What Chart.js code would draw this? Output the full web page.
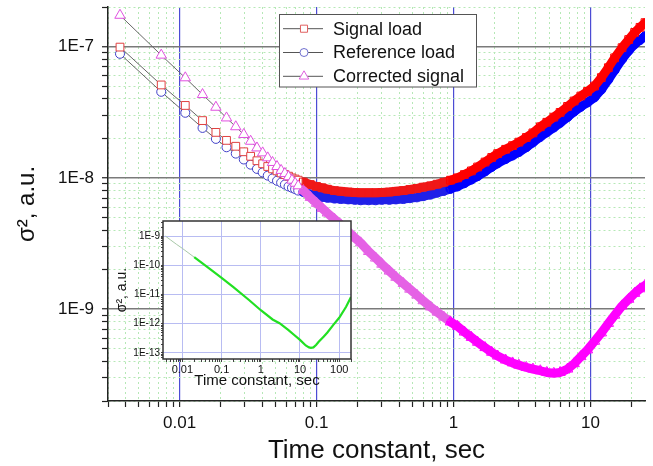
<!DOCTYPE html>
<html>
<head>
<meta charset="utf-8">
<script src="https://cdn.jsdelivr.net/npm/chart.js@4.4.1/dist/chart.umd.min.js"></script>
<style>
  html, body { margin: 0; padding: 0; background: #fff; }
  #wrap { position: relative; width: 653px; height: 466px; }
  #main { position: absolute; left: 0; top: 0; }
  #inset { position: absolute; left: 100px; top: 212px; }
</style>
</head>
<body>
<div id="wrap">
  <canvas id="main" width="653" height="466"></canvas>
  <canvas id="inset" width="260" height="180"></canvas>
</div>
<script>
// time constant, sec (shared by the three main series)
const tau = [0.00367, 0.00734, 0.0110, 0.0147, 0.0184, 0.0220, 0.0257, 0.0294, 0.0330, 0.0367,
  0.0404, 0.0440, 0.0477, 0.0514, 0.0551, 0.0587, 0.0624, 0.0661, 0.0697, 0.0734,
  0.080, 0.090, 0.10, 0.11, 0.12, 0.135, 0.15, 0.17, 0.19, 0.21,
  0.24, 0.27, 0.30, 0.34, 0.38, 0.43, 0.48, 0.54, 0.60, 0.68,
  0.76, 0.85, 0.95, 1.07, 1.2, 1.35, 1.5, 1.7, 1.9, 2.1,
  2.4, 2.7, 3.0, 3.4, 3.8, 4.3, 4.8, 5.4, 6.0, 6.8,
  7.6, 8.5, 9.5, 10.7, 12, 13.5, 15, 17, 19, 21, 23, 25];

const signalLoad = [9.9e-8, 5.1e-8, 3.56e-8, 2.73e-8, 2.22e-8, 1.93e-8, 1.74e-8, 1.58e-8, 1.46e-8, 1.35e-8,
  1.28e-8, 1.22e-8, 1.17e-8, 1.13e-8, 1.09e-8, 1.06e-8, 1.03e-8, 1.0e-8, 9.8e-9, 9.6e-9,
  9.3e-9, 8.9e-9, 8.6e-9, 8.4e-9, 8.2e-9, 8.0e-9, 7.9e-9, 7.8e-9, 7.75e-9, 7.7e-9,
  7.7e-9, 7.7e-9, 7.75e-9, 7.8e-9, 7.9e-9, 8.0e-9, 8.15e-9, 8.3e-9, 8.5e-9, 8.7e-9,
  8.95e-9, 9.25e-9, 9.6e-9, 1.0e-8, 1.06e-8, 1.13e-8, 1.21e-8, 1.32e-8, 1.43e-8, 1.53e-8,
  1.65e-8, 1.76e-8, 1.87e-8, 2.03e-8, 2.2e-8, 2.45e-8, 2.65e-8, 2.9e-8, 3.15e-8, 3.5e-8,
  3.85e-8, 4.2e-8, 4.55e-8, 5.0e-8, 5.8e-8, 6.9e-8, 8.2e-8, 9.8e-8, 1.13e-7, 1.28e-7, 1.4e-7, 1.52e-7];

const referenceLoad = [8.8e-8, 4.52e-8, 3.13e-8, 2.4e-8, 1.98e-8, 1.71e-8, 1.53e-8, 1.38e-8, 1.26e-8, 1.17e-8,
  1.1e-8, 1.04e-8, 9.9e-9, 9.5e-9, 9.2e-9, 8.9e-9, 8.6e-9, 8.4e-9, 8.2e-9, 8.0e-9,
  7.8e-9, 7.5e-9, 7.3e-9, 7.15e-9, 7.05e-9, 6.95e-9, 6.9e-9, 6.85e-9, 6.8e-9, 6.75e-9,
  6.75e-9, 6.75e-9, 6.8e-9, 6.8e-9, 6.85e-9, 6.9e-9, 7.0e-9, 7.1e-9, 7.25e-9, 7.45e-9,
  7.7e-9, 7.95e-9, 8.25e-9, 8.6e-9, 9.1e-9, 9.7e-9, 1.03e-8, 1.12e-8, 1.21e-8, 1.29e-8,
  1.39e-8, 1.48e-8, 1.57e-8, 1.71e-8, 1.86e-8, 2.05e-8, 2.22e-8, 2.42e-8, 2.62e-8, 2.9e-8,
  3.2e-8, 3.48e-8, 3.75e-8, 4.1e-8, 4.7e-8, 5.6e-8, 6.6e-8, 8.0e-8, 9.3e-8, 1.04e-7, 1.12e-7, 1.2e-7];

const correctedSignal = [1.73e-7, 8.6e-8, 5.78e-8, 4.31e-8, 3.45e-8, 2.86e-8, 2.45e-8, 2.14e-8, 1.9e-8, 1.69e-8,
  1.55e-8, 1.42e-8, 1.31e-8, 1.22e-8, 1.14e-8, 1.08e-8, 1.02e-8, 9.6e-9, 9.1e-9, 8.7e-9,
  8.0e-9, 7.1e-9, 6.4e-9, 5.85e-9, 5.4e-9, 4.85e-9, 4.4e-9, 3.9e-9, 3.5e-9, 3.2e-9,
  2.75e-9, 2.45e-9, 2.2e-9, 1.95e-9, 1.75e-9, 1.57e-9, 1.42e-9, 1.28e-9, 1.16e-9, 1.04e-9,
  9.5e-10, 8.7e-10, 8.0e-10, 7.4e-10, 6.7e-10, 6.1e-10, 5.6e-10, 5.1e-10, 4.7e-10, 4.4e-10,
  4.1e-10, 3.9e-10, 3.75e-10, 3.6e-10, 3.5e-10, 3.4e-10, 3.3e-10, 3.25e-10, 3.3e-10, 3.5e-10,
  3.85e-10, 4.35e-10, 4.9e-10, 5.7e-10, 6.6e-10, 7.8e-10, 9.0e-10, 1.06e-9, 1.19e-9, 1.32e-9, 1.43e-9, 1.52e-9];

// inset
const insetTau = [0.0037, 0.005, 0.007, 0.01, 0.02, 0.05, 0.1, 0.2, 0.5, 1, 2, 3, 5, 7, 10, 14, 17, 19, 22, 26, 30, 40, 50, 70, 100, 150, 200];
const insetSigma = [1.0e-9, 7.4e-10, 5.3e-10, 3.8e-10, 1.9e-10, 7.5e-11, 3.7e-11, 1.8e-11, 6.5e-12, 2.9e-12, 1.4e-12, 1.04e-12, 6.2e-13, 4.2e-13, 2.8e-13, 1.8e-13, 1.55e-13, 1.5e-13, 1.55e-13, 1.9e-13, 2.4e-13, 3.6e-13, 5.0e-13, 9.0e-13, 1.6e-12, 3.8e-12, 8.2e-12];

const seriesLabels = ['Signal load', 'Reference load', 'Corrected signal'];

const xMajorTicks = [0.01, 0.1, 1, 10];
const xTickLabels = ['0.01', '0.1', '1', '10'];
const yMajorTicks = [1e-9, 1e-8, 1e-7];
const yTickLabels = ['1E-9', '1E-8', '1E-7'];
const insetXMajorTicks = [0.01, 0.1, 1, 10, 100];
const insetXTickLabels = ['0.01', '0.1', '1', '10', '100'];
const insetYMajorTicks = [1e-13, 1e-12, 1e-11, 1e-10, 1e-9];
const insetYTickLabels = ['1E-13', '1E-12', '1E-11', '1E-10', '1E-9'];

const FONT = 'Arial, "Liberation Sans", sans-serif';
Chart.defaults.font.family = FONT;
Chart.defaults.color = '#111';

const DENSE = 0.075; // markers merge into a band beyond this

function labelFor(values, labels) {
  return v => {
    const i = values.findIndex(t => Math.abs(t / v - 1) < 1e-6);
    return i >= 0 ? labels[i] : '';
  };
}

function decadeTicks(scale) {
  const ticks = [];
  const lo = Math.floor(Math.log10(scale.min)), hi = Math.ceil(Math.log10(scale.max));
  for (let e = lo; e <= hi; e++) {
    for (let m = 1; m <= 9; m++) {
      const v = m * Math.pow(10, e);
      if (v >= scale.min * 0.9999 && v <= scale.max * 1.0001) ticks.push({ value: v, major: m === 1 });
    }
  }
  scale.ticks = ticks;
}

function points(ys) {
  return tau.map((t, i) => ({ x: t, y: ys[i] }));
}

// band = colour where the markers pile up, soft = hatched look while descending
function seriesSet(label, ys, band, soft, marker, style, radius) {
  const bandAt = x => (x < 0.9 ? soft : band);
  return {
    label: label,
    data: points(ys),
    borderColor: band,
    borderWidth: 1,
    borderCapStyle: 'round',
    borderJoinStyle: 'round',
    pointStyle: style,
    pointRadius: radius,
    pointBorderWidth: 1,
    pointBorderColor: c => c.parsed && c.parsed.x >= DENSE ? bandAt(c.parsed.x) : marker,
    pointBackgroundColor: c => c.parsed && c.parsed.x >= DENSE ? 'rgba(255,255,255,0)' : '#fff',
    segment: {
      borderColor: c => c.p0.parsed.x >= DENSE ? bandAt(c.p0.parsed.x) : '#666',
      borderWidth: c => c.p0.parsed.x >= DENSE ? 9 : 1
    }
  };
}

const legendRows = [
  { style: 'rect', radius: 5, color: '#e06060' },
  { style: 'circle', radius: 4, color: '#7070d0' },
  { style: 'triangle', radius: 5.5, color: '#e060e0' }
];

const boxLegend = {
  id: 'boxLegend',
  afterDraw(chart) {
    const ctx = chart.ctx;
    ctx.save();
    ctx.fillStyle = '#fff';
    ctx.strokeStyle = '#555';
    ctx.lineWidth = 1;
    ctx.fillRect(279.5, 14.5, 197, 72.5);
    ctx.strokeRect(279.5, 14.5, 197, 72.5);
    legendRows.forEach((r, i) => {
      const y = 28.7 + i * 23.8;
      ctx.strokeStyle = '#555';
      ctx.beginPath();
      ctx.moveTo(283, y); ctx.lineTo(323, y);
      ctx.stroke();
      ctx.fillStyle = '#fff';
      ctx.strokeStyle = r.color;
      Chart.helpers.drawPoint(ctx, { pointStyle: r.style, radius: r.radius, borderWidth: 1, rotation: 0 }, 304, y);
      ctx.fillStyle = '#111';
      ctx.font = '18px ' + FONT;
      ctx.textBaseline = 'middle';
      ctx.fillText(seriesLabels[i], 333, y + 1);
    });
    ctx.restore();
  }
};

const isDecade = c => !!(c.tick && c.tick.major);

new Chart(document.getElementById('main'), {
  type: 'line',
  data: {
    datasets: [
      seriesSet(seriesLabels[2], correctedSignal, '#ff00ff', '#e561e5', '#e050e0', 'triangle', 6),
      seriesSet(seriesLabels[0], signalLoad, '#ff0000', '#f01818', '#e04040', 'rect', 5.5),
      seriesSet(seriesLabels[1], referenceLoad, '#0000ff', '#2020e8', '#4040c8', 'circle', 4.5)
    ]
  },
  options: {
    responsive: false,
    animation: false,
    devicePixelRatio: 1,
    layout: { padding: { left: 0, top: 7, right: 8, bottom: 0 } },
    plugins: { legend: { display: false }, tooltip: { enabled: false } },
    scales: {
      x: {
        type: 'logarithmic',
        min: 0.003,
        max: 25,
        afterBuildTicks: decadeTicks,
        afterFit: s => { s.height = 65; s.paddingLeft = 0; s.paddingRight = 0; },
        ticks: { callback: labelFor(xMajorTicks, xTickLabels), autoSkip: false, maxRotation: 0, minRotation: 0, padding: 6, font: { size: 17 }, color: '#111' },
        grid: {
          color: c => isDecade(c) ? '#4c4cd4' : '#b6e8b6',
          lineWidth: c => isDecade(c) ? 1.2 : 1,
          tickLength: 6,
          tickColor: '#222',
          tickWidth: 1.2,
          tickBorderDash: []
        },
        border: { display: true, color: '#222', width: 1.5, dash: c => (c.tick && !c.tick.major) ? [2, 3] : [] },
        title: { display: true, text: 'Time constant, sec', font: { size: 26 }, color: '#111', padding: { top: 0, bottom: 0 } }
      },
      y: {
        type: 'logarithmic',
        min: 2e-10,
        max: 2e-7,
        afterBuildTicks: decadeTicks,
        afterFit: s => { s.width = 108; s.paddingTop = 0; s.paddingBottom = 0; },
        ticks: { callback: labelFor(yMajorTicks, yTickLabels), autoSkip: false, padding: 8, font: { size: 17 }, color: '#111' },
        grid: {
          color: c => isDecade(c) ? '#7a7a7a' : '#b6e8b6',
          lineWidth: c => isDecade(c) ? 1.5 : 1,
          tickLength: 6,
          tickColor: '#222',
          tickWidth: 1.2,
          tickBorderDash: []
        },
        border: { display: true, color: '#222', width: 1.5, dash: c => (c.tick && !c.tick.major) ? [2, 3] : [] },
        title: { display: true, text: 'σ², a.u.', font: { size: 24 }, color: '#111', padding: { top: 13, bottom: 0 } }
      }
    }
  },
  plugins: [boxLegend]
});

const insetFrame = {
  id: 'insetFrame',
  beforeDraw(chart) {
    const { ctx, chartArea: a } = chart;
    ctx.save();
    ctx.fillStyle = '#fff';
    ctx.fillRect(a.left, a.top, a.right - a.left, a.bottom - a.top);
    ctx.restore();
  },
  afterDraw(chart) {
    const { ctx, chartArea: a } = chart;
    ctx.save();
    ctx.strokeStyle = '#333';
    ctx.lineWidth = 1.5;
    ctx.strokeRect(a.left, a.top, a.right - a.left, a.bottom - a.top);
    ctx.restore();
  }
};

new Chart(document.getElementById('inset'), {
  type: 'line',
  data: {
    datasets: [{
      label: 'inset',
      data: insetTau.map((t, i) => ({ x: t, y: insetSigma[i] })),
      borderColor: '#22e022',
      borderWidth: 2,
      pointRadius: 0,
      segment: {
        borderColor: c => c.p0.parsed.x < 0.02 ? '#a8c8a8' : '#22e022',
        borderWidth: c => c.p0.parsed.x < 0.02 ? 1 : 2.2
      }
    }]
  },
  options: {
    responsive: false,
    animation: false,
    devicePixelRatio: 1,
    layout: { padding: { left: 0, top: 9, right: 9, bottom: 0 } },
    plugins: { legend: { display: false }, tooltip: { enabled: false } },
    scales: {
      x: {
        type: 'logarithmic',
        min: 0.0032,
        max: 200,
        afterBuildTicks: decadeTicks,
        afterFit: s => { s.height = 33; s.paddingLeft = 0; s.paddingRight = 0; },
        ticks: { callback: labelFor(insetXMajorTicks, insetXTickLabels), autoSkip: false, maxRotation: 0, minRotation: 0, padding: 1, font: { size: 11 }, color: '#111' },
        grid: { color: c => isDecade(c) ? '#b8bcf2' : 'rgba(0,0,0,0)', tickLength: 3, tickColor: '#444', tickWidth: 1 },
        border: { display: false },
        title: { display: true, text: 'Time constant, sec', font: { size: 15 }, color: '#111', padding: { top: 0, bottom: 2 } }
      },
      y: {
        type: 'logarithmic',
        min: 6.2e-14,
        max: 3.3e-9,
        afterBuildTicks: decadeTicks,
        afterFit: s => { s.width = 63; s.paddingTop = 0; s.paddingBottom = 0; },
        ticks: { callback: labelFor(insetYMajorTicks, insetYTickLabels), autoSkip: false, padding: 1, font: { size: 10 }, color: '#111' },
        grid: { color: c => isDecade(c) ? '#b8bcf2' : 'rgba(0,0,0,0)', tickLength: 2, tickColor: '#444', tickWidth: 1 },
        border: { display: false },
        title: { display: true, text: 'σ², a.u.', font: { size: 14 }, color: '#111', padding: { top: 14, bottom: 0 } }
      }
    }
  },
  plugins: [insetFrame]
});
</script>
</body>
</html>
